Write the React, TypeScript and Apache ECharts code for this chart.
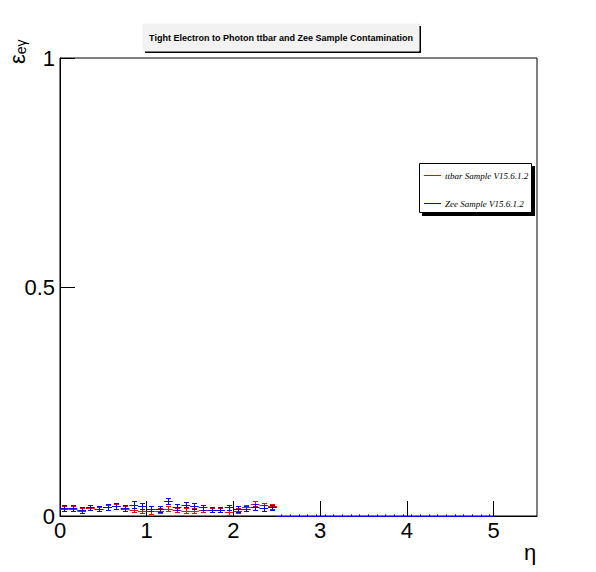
import React, { useEffect, useRef } from "react";
import * as echarts from "echarts";

const binEdgesStart = 0;
const binWidth = 0.1;
const binCount = 50;

const ttbarValues = [
  0.016, 0.016, 0.012, 0.018, 0.015, 0.019, 0.021, 0.016, 0.013, 0.011,
  0.010, 0.012, 0.016, 0.013, 0.012, 0.012, 0.014, 0.013, 0.013, 0.008,
  0.012, 0.020, 0.027, 0.023, 0.021,
];
const ttbarErrors = [
  0.005, 0.005, 0.005, 0.005, 0.005, 0.005, 0.005, 0.005, 0.005, 0.005,
  0.005, 0.005, 0.005, 0.005, 0.005, 0.005, 0.005, 0.005, 0.005, 0.005,
  0.005, 0.005, 0.005, 0.005, 0.005,
];
const zeeValues = [
  0.017, 0.017, 0.013, 0.019, 0.016, 0.020, 0.022, 0.017, 0.025, 0.022,
  0.016, 0.015, 0.033, 0.020, 0.025, 0.022, 0.019, 0.014, 0.014, 0.019,
  0.015, 0.016, 0.020, 0.017, 0.019,
];
const zeeErrors = [
  0.006, 0.006, 0.006, 0.006, 0.006, 0.006, 0.006, 0.006, 0.007, 0.006,
  0.006, 0.006, 0.007, 0.006, 0.006, 0.006, 0.006, 0.006, 0.006, 0.006,
  0.006, 0.006, 0.006, 0.006, 0.006,
];

const xTickLabels = ["0", "1", "2", "3", "4", "5"];
const yTickLabels = ["0", "0.5", "1"];
const titleText = "Tight Electron to Photon ttbar and Zee Sample Contamination";
const legendNames = ["ttbar Sample V15.6.1.2", "Zee Sample V15.6.1.2"];

function buildBins(values: number[], errors: number[]) {
  const out: number[][] = [];
  for (let i = 0; i < binCount; i++) {
    const lo = binEdgesStart + i * binWidth;
    const v = i < values.length ? values[i] : 0;
    const e = i < errors.length ? errors[i] : 0;
    out.push([lo, lo + binWidth, v, e]);
  }
  return out;
}

function makeRender(color: string) {
  return (params: any, api: any) => {
    const lo = api.value(0);
    const hi = api.value(1);
    const v = api.value(2);
    const e = api.value(3);
    const pL = api.coord([lo, v]);
    const pR = api.coord([hi, v]);
    const cx = Math.round((pL[0] + pR[0]) / 2) + 0.5;
    const y = Math.round(pL[1]) + 0.5;
    const pTop = api.coord([(lo + hi) / 2, v + e]);
    const pBot = api.coord([(lo + hi) / 2, v - e]);
    const yt = Math.round(pTop[1]) + 0.5;
    const yb = Math.round(pBot[1]) + 0.5;
    const st = { stroke: color, lineWidth: 1 };
    const children: any[] = [
      { type: "line", shape: { x1: pL[0], y1: y, x2: pR[0], y2: y }, style: st },
    ];
    if (e > 0) {
      children.push(
        { type: "line", shape: { x1: cx, y1: yt, x2: cx, y2: yb }, style: st },
        { type: "line", shape: { x1: cx - 2.5, y1: yt, x2: cx + 2.5, y2: yt }, style: st },
        { type: "line", shape: { x1: cx - 2.5, y1: yb, x2: cx + 2.5, y2: yb }, style: st }
      );
    } else {
      children.push({ type: "line", shape: { x1: cx, y1: y - 2, x2: cx, y2: y }, style: st });
    }
    return { type: "group", children };
  };
}

export default function App() {
  const ref = useRef<HTMLDivElement>(null);
  useEffect(() => {
    if (!ref.current) return;
    const chart = echarts.init(ref.current, null, { renderer: "svg" });
    const font = "'Liberation Sans', Arial, sans-serif";
    const serif = "'Liberation Serif', 'Times New Roman', serif";
    chart.setOption({
      animation: false,
      backgroundColor: "#ffffff",
      grid: {
        left: 60,
        top: 58,
        width: 477,
        height: 458,
        show: true,
        borderColor: "#000",
        borderWidth: 1,
        backgroundColor: "transparent",
      },
      xAxis: {
        type: "value",
        min: 0,
        max: 5.5,
        interval: 1,
        splitLine: { show: false },
        axisLine: { show: true, onZero: false, lineStyle: { color: "#000", width: 1 } },
        axisTick: { show: true, inside: true, length: 15, lineStyle: { color: "#000" } },
        axisLabel: {
          show: true,
          margin: 3,
          fontSize: 22,
          fontFamily: font,
          color: "#000",
          showMaxLabel: false,
          formatter: (v: number) => {
            const idx = Math.round(v);
            return Math.abs(v - idx) < 1e-6 && idx < xTickLabels.length ? xTickLabels[idx] : "";
          },
        },
      },
      yAxis: {
        type: "value",
        min: 0,
        max: 1,
        interval: 0.5,
        splitLine: { show: false },
        axisLine: { show: true, lineStyle: { color: "#000", width: 1 } },
        axisTick: { show: true, inside: true, length: 15, lineStyle: { color: "#000" } },
        axisLabel: {
          show: true,
          margin: 5,
          fontSize: 22,
          fontFamily: font,
          color: "#000",
          formatter: (v: number) => yTickLabels[Math.round(v * 2)] ?? "",
        },
      },
      series: [
        {
          type: "custom",
          name: legendNames[0],
          renderItem: makeRender("#ff0000"),
          data: buildBins(ttbarValues, ttbarErrors),
          encode: { x: [0, 1], y: 2 },
          z: 2,
        },
        {
          type: "custom",
          name: legendNames[1],
          renderItem: makeRender("#0000ff"),
          data: buildBins(zeeValues, zeeErrors),
          encode: { x: [0, 1], y: 2 },
          z: 3,
        },
      ],
      graphic: [
        { type: "rect", shape: { x: 145, y: 26, width: 276, height: 27 }, style: { fill: "#000" }, z: 10 },
        { type: "rect", shape: { x: 143, y: 24, width: 276, height: 27 }, style: { fill: "#f2f2f2", stroke: "#f2f2f2" }, z: 11 },
        {
          type: "text",
          x: 281,
          y: 38,
          style: {
            text: titleText,
            fontSize: 9,
            fontWeight: "bold",
            fontFamily: font,
            fill: "#000",
            align: "center",
            verticalAlign: "middle",
          },
          z: 12,
        },
        { type: "rect", shape: { x: 422, y: 166, width: 113, height: 50 }, style: { fill: "#000" }, z: 10 },
        { type: "rect", shape: { x: 419.5, y: 163.5, width: 112, height: 49 }, style: { fill: "#fff", stroke: "#000", lineWidth: 1 }, z: 11 },
        { type: "rect", shape: { x: 424, y: 175, width: 17, height: 1 }, style: { fill: "#ff0000" }, z: 12 },
        { type: "rect", shape: { x: 424, y: 203, width: 17, height: 1 }, style: { fill: "#0000ff" }, z: 12 },
        {
          type: "text",
          x: 445,
          y: 175.5,
          style: { text: legendNames[0], fontSize: 9, fontStyle: "italic", fontFamily: serif, fill: "#000", verticalAlign: "middle" },
          z: 12,
        },
        {
          type: "text",
          x: 445,
          y: 203.5,
          style: { text: legendNames[1], fontSize: 9, fontStyle: "italic", fontFamily: serif, fill: "#000", verticalAlign: "middle" },
          z: 12,
        },
        {
          type: "text",
          x: 17,
          y: 64,
          rotation: Math.PI / 2,
          style: {
            text: "{e|ε}{s|eγ}",
            fontFamily: font,
            fill: "#000",
            verticalAlign: "middle",
            rich: {
              e: { fontSize: 22, fontFamily: font, fill: "#000", verticalAlign: "middle" },
              s: { fontSize: 14, fontFamily: font, fill: "#000", padding: [8, 0, 0, 0], verticalAlign: "bottom" },
            },
          },
        },
        {
          type: "text",
          x: 530,
          y: 552,
          style: { text: "η", fontSize: 22, fontFamily: font, fill: "#000", align: "center", verticalAlign: "middle" },
        },
      ],
    });
    return () => chart.dispose();
  }, []);
  return <div ref={ref} style={{ position: "fixed", left: 0, top: 0, width: 596, height: 572 }} />;
}
